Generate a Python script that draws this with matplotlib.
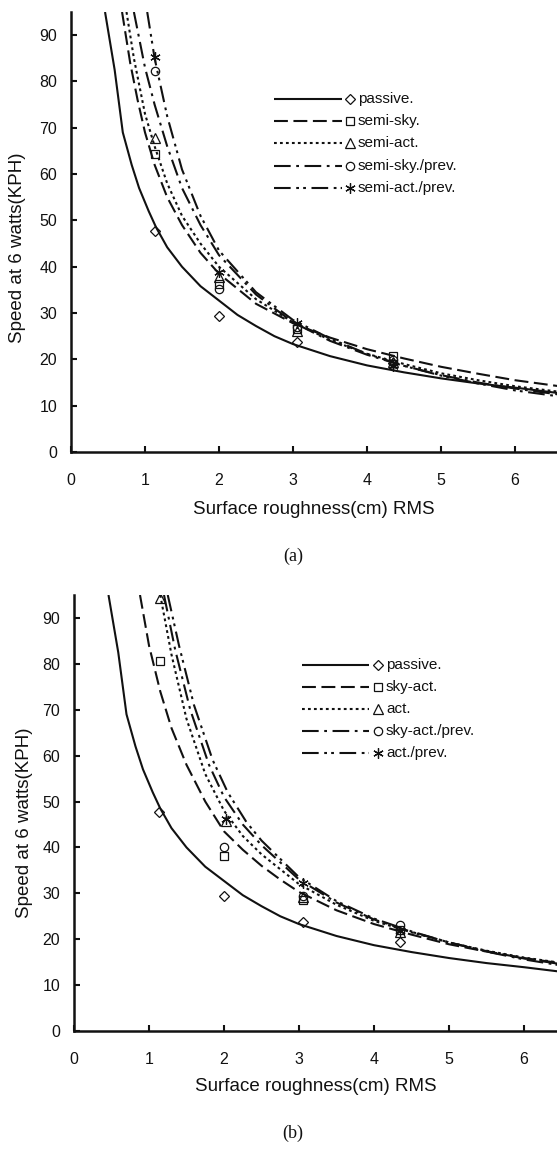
import matplotlib
matplotlib.use("Agg")
import matplotlib.pyplot as plt

plt.rcParams["font.family"] = ["Liberation Sans", "DejaVu Sans"]
plt.rcParams["lines.scale_dashes"] = False

# ---- data ----
point_x = [1.13, 2.0, 3.05, 4.35]

# passive case (same in both panels)
passive_cx = [0.46, 0.59, 0.70, 0.82, 0.92, 1.05, 1.15, 1.3, 1.5, 1.75, 2.0, 2.25, 2.5,
              2.75, 3.0, 3.5, 4.0, 4.5, 5.0, 5.5, 6.0, 6.6]
passive_cy = [95, 82.5, 69, 62, 57, 52, 48.5, 44.2, 40, 35.8, 32.7, 29.6, 27.2,
              25, 23.3, 20.7, 18.7, 17.2, 15.9, 14.8, 13.9, 12.7]
passive_py = [47.7, 29.4, 23.8, 19.3]

# panel (a)
semi_sky_cx = [0.69, 0.8, 0.9, 1.0, 1.13, 1.3, 1.5, 1.75, 2.0, 2.5, 3.0, 3.5, 4.0, 4.5, 5.0, 5.5, 6.0, 6.6]
semi_sky_cy = [95, 84, 76, 69, 62, 55, 49, 43, 38.5, 32, 27.8, 24.7, 22.2, 20.2, 18.4, 16.9, 15.5, 14.2]
semi_sky_py = [64.3, 36.2, 26.6, 20.8]

semi_act_cx = [0.75, 0.85, 1.0, 1.13, 1.3, 1.5, 1.75, 2.0, 2.5, 3.0, 3.5, 4.0, 4.5, 5.0, 5.5, 6.0, 6.6]
semi_act_cy = [95, 85, 73, 66, 58, 51, 45, 40, 33, 28, 24.2, 21.2, 19, 17, 15.5, 14.2, 13]
semi_act_py = [67.8, 37.8, 26.2, 19.5]

semi_sky_prev_cx = [0.85, 1.0, 1.13, 1.3, 1.5, 1.75, 2.0, 2.5, 3.0, 3.5, 4.0, 4.5, 5.0, 5.5, 6.0, 6.6]
semi_sky_prev_cy = [95, 83, 75, 66, 57, 49, 42.5, 34, 28, 24, 21, 18.6, 16.6, 15, 13.7, 12.4]
semi_sky_prev_py = [82.3, 35.2, 27.0, 19.8]

semi_act_prev_cx = [1.03, 1.13, 1.3, 1.5, 1.75, 2.0, 2.5, 3.0, 3.5, 4.0, 4.5, 5.0, 5.5, 6.0, 6.6]
semi_act_prev_cy = [95, 85, 72.5, 61, 51, 43.5, 34.5, 28.5, 24.5, 21.2, 18.6, 16.5, 14.8, 13.3, 12]
semi_act_prev_py = [85.3, 38.8, 27.8, 18.6]

# panel (b)
sky_act_cx = [0.88, 1.0, 1.15, 1.3, 1.5, 1.75, 2.0, 2.25, 2.5, 2.75, 3.0, 3.5, 4.0, 4.5, 5.0, 5.5, 6.0, 6.6]
sky_act_cy = [95, 84, 74, 66, 58, 50, 43.5, 39.5, 36, 33, 30.3, 26.3, 23.3, 21, 18.9, 17.3, 15.9, 14.5]
sky_act_py = [80.6, 38.2, 28.5, 22.0]

act_cx = [1.15, 1.3, 1.5, 1.75, 2.0, 2.25, 2.5, 3.0, 3.5, 4.0, 4.5, 5.0, 5.5, 6.0, 6.6]
act_cy = [95, 82, 68, 56, 48, 42.5, 38.5, 32, 27.5, 24, 21.5, 19.3, 17.5, 16, 14.6]
act_py = [94.3, 45.8, 29.3, 21.5]

sky_act_prev_cx = [1.2, 1.35, 1.55, 1.8, 2.0, 2.25, 2.5, 3.0, 3.5, 4.0, 4.5, 5.0, 5.5, 6.0, 6.6]
sky_act_prev_cy = [95, 83, 70, 58, 51, 45, 40.5, 33, 28, 24.3, 21.6, 19.3, 17.4, 15.8, 14.3]
sky_act_prev_px = [2.0, 3.05, 4.35]
sky_act_prev_py = [40.2, 29.5, 23.0]

act_prev_cx = [1.25, 1.4, 1.6, 1.85, 2.05, 2.3, 2.5, 3.0, 3.5, 4.0, 4.5, 5.0, 5.5, 6.0, 6.6]
act_prev_cy = [95, 84, 71, 59, 52, 45.5, 41.5, 33.5, 28.3, 24.5, 21.7, 19.3, 17.3, 15.6, 14]
act_prev_px = [2.03, 3.05, 4.35]
act_prev_py = [46.3, 32.2, 21.8]

names_a = ["passive.", "semi-sky.", "semi-act.", "semi-sky./prev.", "semi-act./prev."]
names_b = ["passive.", "sky-act.", "act.", "sky-act./prev.", "act./prev."]

# ---- styles ----
DASHES = [None, (10, 4), (2, 2.3), (12, 4, 2, 4), (12, 4, 2, 3, 2, 4)]
MARKERS = ["D", "s", "^", "o", (6, 2, 0)]
MSIZE = [5.5, 6, 6.5, 6, 7.5]
INK = "#111111"


def style_line(line, dash):
    if dash is None:
        line.set_linestyle("-")
    else:
        line.set_dashes(dash)


def draw_panel(ax, curves, points, xmax):
    for i, ((cx, cy), (px, py)) in enumerate(zip(curves, points)):
        ln, = ax.plot(cx, cy, color=INK, lw=1.5, solid_capstyle="butt",
                      dash_capstyle="butt")
        style_line(ln, DASHES[i])
        ax.plot(px, py, linestyle="none", marker=MARKERS[i], ms=MSIZE[i],
                mfc="none", mec=INK, mew=0.9)
    ax.set_xlim(0, xmax)
    ax.set_ylim(0, 95)
    ax.set_xticks(range(0, 7))
    ax.set_yticks(range(0, 91, 10))
    for s in ["top", "right"]:
        ax.spines[s].set_visible(False)
    for s in ["left", "bottom"]:
        ax.spines[s].set_linewidth(1.8)
        ax.spines[s].set_color(INK)
    ax.tick_params(direction="in", length=4, width=1.5, colors=INK,
                   labelsize=11.5)
    ax.tick_params(axis="x", pad=15)
    ax.tick_params(axis="y", pad=10)
    ax.set_xlabel("Surface roughness(cm) RMS", fontsize=13.5, color=INK)
    ax.set_ylabel("Speed at 6 watts(KPH)", fontsize=13.5, color=INK)
    ax.xaxis.label.set_va("center")
    ax.yaxis.label.set_va("center")


def draw_legend(ax, x0, x1, xm, xt, y0, dy, names):
    for i, name in enumerate(names):
        y = y0 - i * dy
        ln, = ax.plot([x0, x1], [y, y], transform=ax.transAxes, color=INK,
                      lw=1.5, clip_on=False, solid_capstyle="butt")
        style_line(ln, DASHES[i])
        ax.plot([xm], [y], transform=ax.transAxes, marker=MARKERS[i],
                ms=MSIZE[i], mfc="none", mec=INK, mew=0.9, clip_on=False)
        ax.text(xt, y, name, transform=ax.transAxes, fontsize=11, color=INK,
                va="center", ha="left")


fig = plt.figure(figsize=(5.57, 11.49), dpi=100)

ax_a = fig.add_axes([71 / 557, 1 - 452 / 1149, 486 / 557, 440 / 1149])
curves_a = [(passive_cx, passive_cy), (semi_sky_cx, semi_sky_cy),
            (semi_act_cx, semi_act_cy), (semi_sky_prev_cx, semi_sky_prev_cy),
            (semi_act_prev_cx, semi_act_prev_cy)]
points_a = [(point_x, passive_py), (point_x, semi_sky_py), (point_x, semi_act_py),
            (point_x, semi_sky_prev_py), (point_x, semi_act_prev_py)]
draw_panel(ax_a, curves_a, points_a, 486 / 74)
ax_a.xaxis.set_label_coords(0.5, -0.13)
ax_a.yaxis.set_label_coords(-0.111, 0.464)
draw_legend(ax_a, (274 - 71) / 486, (342 - 71) / 486, (350 - 71) / 486,
            (358 - 71) / 486, (452 - 99) / 440, 22.2 / 440, names_a)

ax_b = fig.add_axes([74 / 557, 1 - 1031 / 1149, 483 / 557, 436 / 1149])
curves_b = [(passive_cx, passive_cy), (sky_act_cx, sky_act_cy),
            (act_cx, act_cy), (sky_act_prev_cx, sky_act_prev_cy),
            (act_prev_cx, act_prev_cy)]
points_b = [(point_x, passive_py), ([1.15, 2.0, 3.05, 4.35], sky_act_py),
            ([1.15, 2.03, 3.05, 4.35], act_py), (sky_act_prev_px, sky_act_prev_py),
            (act_prev_px, act_prev_py)]
draw_panel(ax_b, curves_b, points_b, 483 / 75)
ax_b.xaxis.set_label_coords(0.5, -0.128)
ax_b.yaxis.set_label_coords(-0.1035, 0.477)
draw_legend(ax_b, (302 - 74) / 483, (369 - 74) / 483, (378 - 74) / 483,
            (386 - 74) / 483, (1031 - 665) / 436, 22 / 436, names_b)

fig.text(293 / 557, 1 - 556 / 1149, "(a)", family="Liberation Serif",
         fontsize=13, ha="center", va="center", color=INK)
fig.text(293 / 557, 1 - 1133 / 1149, "(b)", family="Liberation Serif",
         fontsize=13, ha="center", va="center", color=INK)

fig.savefig("out.png", dpi=100, facecolor="white")
